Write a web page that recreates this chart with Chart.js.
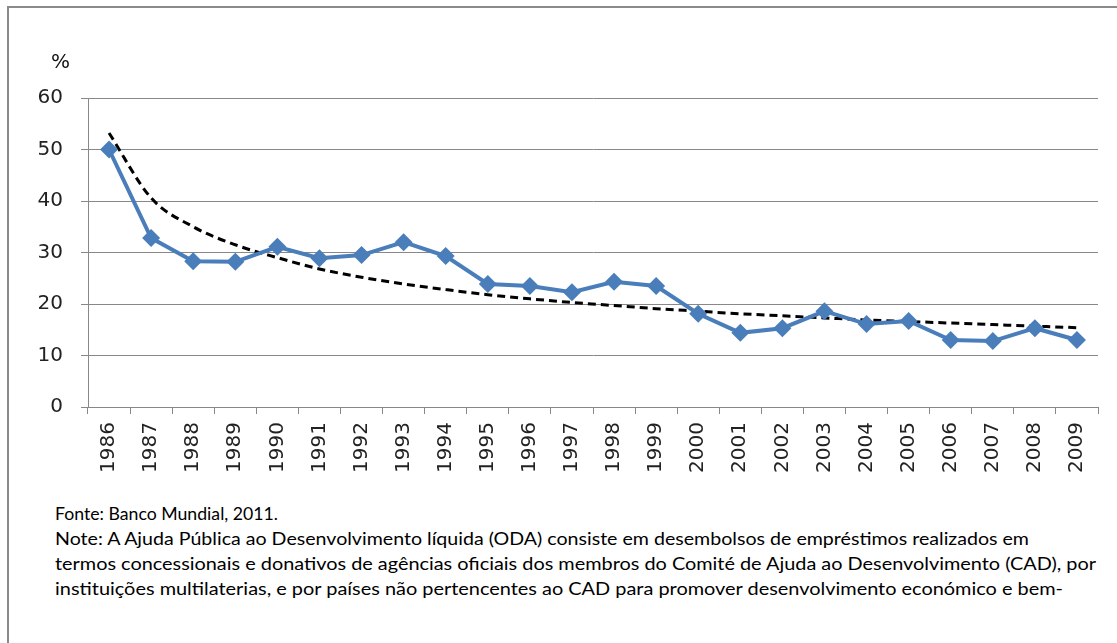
<!DOCTYPE html>
<html>
<head>
<meta charset="utf-8">
<script src="https://cdn.jsdelivr.net/npm/chart.js@4/dist/chart.umd.min.js"></script>
<style>
  body { margin: 0; background: #fff; }
  #frame {
    position: absolute; left: 7px; top: 6px; width: 1120px; height: 650px;
    border-left: 2px solid #8a8a8a; border-top: 2px solid #8a8a8a;
  }
  #wrap { position: absolute; left: 0; top: 0; width: 1117px; height: 490px; }
  #pct { position: absolute; left: 51px; top: 49px; font: 20px "DejaVu Sans", Verdana, sans-serif; color: #111; }
  .note { position: absolute; left: 55px; font: 17px Lato, "Open Sans", sans-serif; color: #000; white-space: nowrap; transform-origin: 0 50%; }
</style>
</head>
<body>
<div id="frame"></div>
<div id="wrap"><canvas id="odaChart"></canvas></div>
<div id="pct">%</div>
<div class="note" style="top:503px" data-w="223">Fonte: Banco Mundial, 2011.</div>
<div class="note" style="top:528px" data-w="974">Note: A Ajuda Pública ao Desenvolvimento líquida (ODA) consiste em desembolsos de empréstimos realizados em</div>
<div class="note" style="top:553px" data-w="1041">termos concessionais e donativos de agências oficiais dos membros do Comité de Ajuda ao Desenvolvimento (CAD), por</div>
<div class="note" style="top:578px" data-w="1008">instituições multilaterias, e por países não pertencentes ao CAD para promover desenvolvimento económico e bem-</div>
<script>
const years = ["1986", "1987", "1988", "1989", "1990", "1991", "1992", "1993", "1994", "1995", "1996", "1997",
  "1998", "1999", "2000", "2001", "2002", "2003", "2004", "2005", "2006", "2007", "2008", "2009"];
const odaShare = [50.0, 32.8, 28.3, 28.2, 31.1, 28.9, 29.5, 32.0, 29.3, 23.9, 23.5, 22.3,
  24.3, 23.5, 18.1, 14.4, 15.3, 18.6, 16.1, 16.7, 13.0, 12.8, 15.3, 13.0];
const trend = [53.2, 40.6, 35.0, 31.5, 29.0, 26.8, 25.2, 23.9, 22.8, 21.8, 21.0, 20.3,
  19.7, 19.1, 18.6, 18.1, 17.7, 17.3, 16.9, 16.6, 16.3, 16.0, 15.7, 15.4];
const yTicks = [0, 10, 20, 30, 40, 50, 60];

// stretch the note lines to the widths of the original
document.querySelectorAll(".note").forEach(function (el) {
  const w = el.getBoundingClientRect().width;
  el.style.transform = "scaleX(" + (parseFloat(el.dataset.w) / w) + ")";
});

const axisFont = { family: "'DejaVu Sans', Verdana, sans-serif", size: 20 };

new Chart(document.getElementById("odaChart"), {
  type: "line",
  data: {
    labels: years,
    datasets: [
      {
        data: trend,
        borderColor: "#000",
        borderWidth: 3,
        borderDash: [8, 5],
        pointRadius: 0,
        cubicInterpolationMode: "monotone",
        order: 2,
      },
      {
        data: odaShare,
        borderColor: "#4a7ebb",
        backgroundColor: "#4a7ebb",
        borderWidth: 4,
        pointStyle: "rectRot",
        pointRadius: 9,
        pointBorderWidth: 0,
        order: 1,
      },
    ],
  },
  options: {
    responsive: true,
    maintainAspectRatio: false,
    animation: false,
    layout: { padding: { top: 98, right: 19, left: 0, bottom: 0 } },
    plugins: { legend: { display: false }, tooltip: { enabled: false } },
    scales: {
      x: {
        offset: true,
        grid: { offset: true, drawOnChartArea: false, tickLength: 7, color: "#888" },
        border: { color: "#888" },
        ticks: { font: axisFont, color: "#222", minRotation: 90, maxRotation: 90, padding: 8 },
        afterFit: function (scale) { scale.height = 83; },
      },
      y: {
        min: 0,
        max: 60,
        afterBuildTicks: function (scale) { scale.ticks = yTicks.map(function (v) { return { value: v }; }); },
        grid: { color: "#888", tickLength: 7 },
        border: { color: "#888" },
        ticks: { font: axisFont, color: "#222", padding: 18 },
        afterFit: function (scale) { scale.width = 88; },
      },
    },
  },
});
</script>
</body>
</html>
